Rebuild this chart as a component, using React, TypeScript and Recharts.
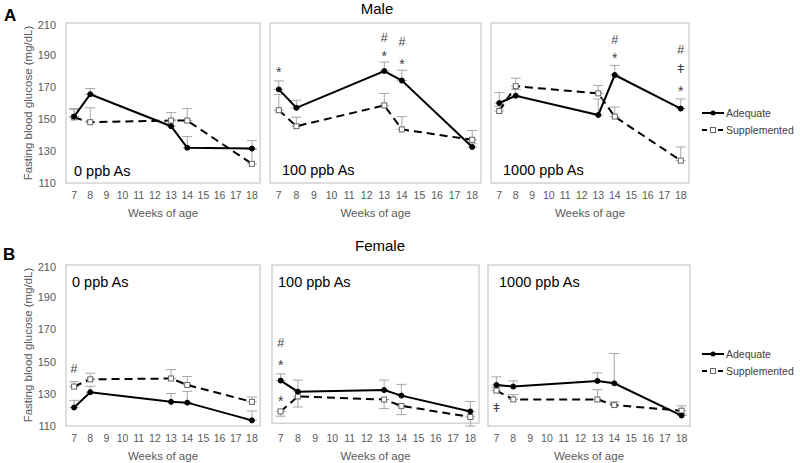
import { LineChart, Line, XAxis, YAxis, ErrorBar, ReferenceArea, ReferenceDot } from 'recharts';

const FONT = '"Liberation Sans", Arial, sans-serif';
const GREY_TEXT = '#595959';

const weeks = [7, 8, 13, 14, 18];
const weekTicks = [7, 8, 9, 10, 11, 12, 13, 14, 15, 16, 17, 18];
const glucoseTicks = [110, 130, 150, 170, 190, 210];

// Male, 0 ppb As
const male0Adequate = [151.5, 165.5, 145.5, 132, 131.5];
const male0AdequateErr = [5, 3.5, 4, 7, 5];
const male0Supplemented = [151, 148, 149, 149, 122];
const male0SupplementedErr = [5, 9, 5, 7.5, 9];

// Male, 100 ppb As
const male100Adequate = [168.5, 157, 180, 174, 132.5];
const male100AdequateErr = [5.3, 4.7, 5.6, 6.5, 2];
const male100Supplemented = [155.5, 145.5, 158.5, 143.5, 137];
const male100SupplementedErr = [9.8, 5.6, 7.5, 8, 5.8];
const male100Marks = [
  { week: 7, value: 181.7, sym: '*' },
  { week: 13, value: 201.1, sym: '#' },
  { week: 13, value: 191.4, sym: '*' },
  { week: 14, value: 198.3, sym: '#' },
  { week: 14, value: 186.3, sym: '*' },
];

// Male, 1000 ppb As
const male1000Adequate = [160, 164.5, 152.5, 177.5, 156.5];
const male1000AdequateErr = [6.5, 4, 10, 6, 6];
const male1000Supplemented = [155, 170.5, 166, 151.5, 124];
const male1000SupplementedErr = [3, 5, 5, 6, 8.5];
const male1000Marks = [
  { week: 14, value: 199.8, sym: '#' },
  { week: 14, value: 190.4, sym: '*' },
  { week: 18, value: 193.6, sym: '#' },
  { week: 18, value: 181.7, sym: 'ǂ' },
  { week: 18, value: 169.8, sym: '*' },
];

// Female, 0 ppb As
const female0Adequate = [121.5, 131, 125, 124.5, 113.5];
const female0AdequateErr = [4.4, 3.7, 5.2, 7, 5.8];
const female0Supplemented = [134.5, 139, 139.5, 135.5, 125];
const female0SupplementedErr = [3, 3.8, 5.5, 5.2, 3];
const female0Marks = [{ week: 7, value: 146, sym: '#' }];

// Female, 100 ppb As (negative error = drawn downward)
const female100Adequate = [137, 130, 131, 127.5, 117.5];
const female100AdequateErr = [4.2, 7.3, 6.3, 7.1, 6.3];
const female100Supplemented = [117.5, 127, 125, 121, 114];
const female100SupplementedErr = [-3, -6.7, -5.7, -5.5, -5.7];
const female100Marks = [
  { week: 7, value: 161, sym: '#' },
  { week: 7, value: 149.1, sym: '*' },
  { week: 7, value: 126.1, sym: '*' },
];

// Female, 1000 ppb As
const female1000Adequate = [135.5, 134.5, 138, 136.5, 116.5];
const female1000AdequateErr = [5, 3.5, 5, 18.5, 1];
const female1000Supplemented = [132, 126.5, 126.5, 123, 119.5];
const female1000SupplementedErr = [2, 3, 6, 2, 3];
const female1000Marks = [{ week: 7, value: 121.8, sym: 'ǂ' }];

type Mark = { week: number; value: number; sym: string };

const toErr = (e: number) => (e >= 0 ? [0, e] : [-e, 0]);

const SquareDot = (props: any) => {
  const { cx, cy, index } = props;
  if (cx == null || cy == null) return <g key={index} />;
  return <rect key={index} x={cx - 2.5} y={cy - 2.5} width={5} height={5} fill="#fff" stroke="#666" strokeWidth={1} />;
};

// shift so the glyph's visual centre lands on the data point
const symShift: Record<string, number> = { '*': 0.6, '#': 0.36, 'ǂ': 0.36 };
const symSize: Record<string, number> = { '*': 14, '#': 12.5, 'ǂ': 12.5 };

interface PanelProps {
  left: number;
  top: number;
  width: number;
  height: number;
  showY?: boolean;
  adequate: number[];
  adequateErr: number[];
  supplemented: number[];
  supplementedErr: number[];
  marks?: Mark[];
}

function Panel({ left, top, width, height, showY, adequate, adequateErr, supplemented, supplementedErr, marks = [] }: PanelProps) {
  const data = weeks.map((w, i) => ({
    week: w,
    adequate: adequate[i],
    supplemented: supplemented[i],
    aErr: toErr(adequateErr[i]),
    sErr: toErr(supplementedErr[i]),
  }));
  const yW = showY ? 66 : 0;
  const m = { top: 4, right: 4, left: showY ? 0 : 4, bottom: 0 };
  const chartW = m.left + yW + width + m.right;
  const chartH = m.top + height + 40;

  return (
    <div style={{ position: 'absolute', left: left - m.left - yW, top: top - m.top }}>
      <LineChart width={chartW} height={chartH} data={data} margin={m}>
        <ReferenceArea x1={6.5} x2={18.5} y1={110} y2={210} fill="#fff" fillOpacity={0} stroke="#d4d4d4" strokeWidth={1.5} />
        <XAxis
          type="number"
          dataKey="week"
          domain={[6.5, 18.5]}
          ticks={weekTicks}
          interval={0}
          axisLine={false}
          tickLine={false}
          tickSize={0}
          tickMargin={9}
          height={40}
          tick={{ fontSize: 10.5, fill: GREY_TEXT, fontFamily: FONT }}
          label={{ value: 'Weeks of age', position: 'insideBottom', offset: 6, fontSize: 11.5, fill: GREY_TEXT, fontFamily: FONT }}
        />
        <YAxis
          hide={!showY}
          width={yW}
          domain={[110, 210]}
          ticks={glucoseTicks}
          axisLine={false}
          tickLine={false}
          tickSize={0}
          tickMargin={10}
          tick={{ fontSize: 11, fill: GREY_TEXT, fontFamily: FONT }}
        />
        <Line
          type="linear"
          dataKey="supplemented"
          stroke="#000"
          strokeWidth={2}
          strokeDasharray="8 5"
          dot={SquareDot}
          isAnimationActive={false}
        >
          <ErrorBar dataKey="sErr" direction="y" width={5} stroke="#a6a6a6" strokeWidth={1} />
        </Line>
        <Line
          type="linear"
          dataKey="adequate"
          stroke="#000"
          strokeWidth={2}
          dot={{ r: 2.5, fill: '#000', stroke: '#000', strokeWidth: 1 }}
          isAnimationActive={false}
        >
          <ErrorBar dataKey="aErr" direction="y" width={5} stroke="#a6a6a6" strokeWidth={1} />
        </Line>
        {marks.map((mk, i) => {
          const fs = symSize[mk.sym] ?? 12.5;
          return (
            <ReferenceDot
              key={i}
              x={mk.week}
              y={mk.value}
              r={0}
              shape={(p: any) => (
                <text
                  x={p.cx}
                  y={p.cy + fs * (symShift[mk.sym] ?? 0.36)}
                  textAnchor="middle"
                  fontSize={fs}
                  fill="#404040"
                  fontFamily={FONT}
                >
                  {mk.sym}
                </text>
              )}
            />
          );
        })}
      </LineChart>
    </div>
  );
}

function PanelLabel({ x, y, text }: { x: number; y: number; text: string }) {
  return (
    <div style={{ position: 'absolute', left: x, top: y - 8, fontSize: 14.5, lineHeight: '16px', color: '#000', whiteSpace: 'nowrap' }}>
      {text}
    </div>
  );
}

function YLabel({ y }: { y: number }) {
  return (
    <div
      style={{
        position: 'absolute',
        left: 28,
        top: y,
        transform: 'translate(-50%, -50%) rotate(-90deg)',
        fontSize: 11.5,
        color: GREY_TEXT,
        whiteSpace: 'nowrap',
      }}
    >
      Fasting blood glucose (mg/dL)
    </div>
  );
}

function Legend({ top }: { top: number }) {
  const row = (label: string, dashed: boolean, dy: number) => (
    <div style={{ position: 'absolute', left: 0, top: dy, display: 'flex', alignItems: 'center', whiteSpace: 'nowrap' }}>
      <svg width={24} height={8} style={{ marginRight: 1 }}>
        <line x1={1} y1={4} x2={23} y2={4} stroke="#000" strokeWidth={2} strokeDasharray={dashed ? '5 3' : undefined} />
        {dashed ? (
          <rect x={9.5} y={1.5} width={5} height={5} fill="#fff" stroke="#666" />
        ) : (
          <circle cx={12} cy={4} r={2.5} fill="#000" />
        )}
      </svg>
      <span style={{ fontSize: 10.5, color: '#404040', lineHeight: '12px' }}>{label}</span>
    </div>
  );
  return (
    <div style={{ position: 'absolute', left: 701, top: top - 6 }}>
      {row('Adequate', false, 0)}
      {row('Supplemented', true, 17)}
    </div>
  );
}

export default function App() {
  return (
    <div style={{ position: 'absolute', left: 0, top: 0, width: 800, height: 463, background: '#fff', fontFamily: FONT, overflow: 'hidden' }}>
      <div style={{ position: 'absolute', left: 4, top: 6, fontSize: 17, fontWeight: 'bold', lineHeight: '20px' }}>A</div>
      <div style={{ position: 'absolute', left: 377, top: 8, transform: 'translate(-50%, -50%)', fontSize: 15 }}>Male</div>
      <YLabel y={103} />
      <Panel left={66} top={23} width={194} height={160} showY adequate={male0Adequate} adequateErr={male0AdequateErr} supplemented={male0Supplemented} supplementedErr={male0SupplementedErr} />
      <Panel left={270} top={23} width={211} height={160} adequate={male100Adequate} adequateErr={male100AdequateErr} supplemented={male100Supplemented} supplementedErr={male100SupplementedErr} marks={male100Marks} />
      <Panel left={491} top={23} width={198} height={160} adequate={male1000Adequate} adequateErr={male1000AdequateErr} supplemented={male1000Supplemented} supplementedErr={male1000SupplementedErr} marks={male1000Marks} />
      <PanelLabel x={74} y={171} text="0 ppb As" />
      <PanelLabel x={282} y={170} text="100 ppb As" />
      <PanelLabel x={503} y={170} text="1000 ppb As" />
      <Legend top={113} />

      <div style={{ position: 'absolute', left: 3, top: 245, fontSize: 17, fontWeight: 'bold', lineHeight: '20px' }}>B</div>
      <div style={{ position: 'absolute', left: 380, top: 245, transform: 'translate(-50%, -50%)', fontSize: 15 }}>Female</div>
      <YLabel y={345} />
      <Panel left={66} top={265} width={194} height={161} showY adequate={female0Adequate} adequateErr={female0AdequateErr} supplemented={female0Supplemented} supplementedErr={female0SupplementedErr} marks={female0Marks} />
      <Panel left={272} top={265} width={207} height={161} adequate={female100Adequate} adequateErr={female100AdequateErr} supplemented={female100Supplemented} supplementedErr={female100SupplementedErr} marks={female100Marks} />
      <Panel left={488} top={265} width={202} height={161} adequate={female1000Adequate} adequateErr={female1000AdequateErr} supplemented={female1000Supplemented} supplementedErr={female1000SupplementedErr} marks={female1000Marks} />
      <PanelLabel x={72} y={282} text="0 ppb As" />
      <PanelLabel x={278} y={282} text="100 ppb As" />
      <PanelLabel x={499} y={282} text="1000 ppb As" />
      <Legend top={354} />
    </div>
  );
}
